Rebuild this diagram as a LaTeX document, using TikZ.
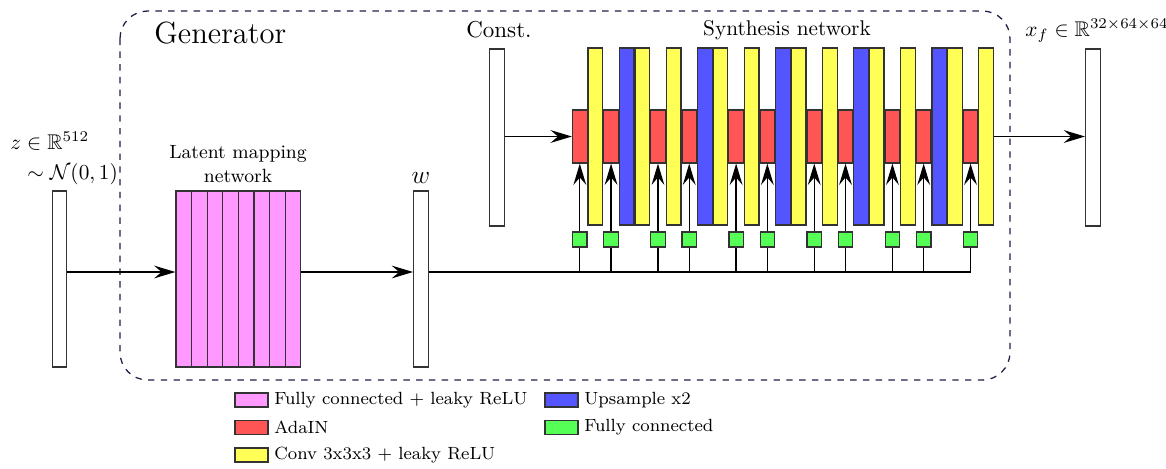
\documentclass[tikz,border=0pt]{standalone}
\usepackage{amssymb,amsmath}
\usepackage{tikz}
\usetikzlibrary{arrows.meta}
\usetikzlibrary{positioning}
\definecolor{linecolor}{HTML}{333333}
\definecolor{framecolor}{HTML}{1E1E48}
\definecolor{mapcolor}{HTML}{FF99FF}
\definecolor{adacolor}{HTML}{FF5555}
\definecolor{convcolor}{HTML}{FFFF55}
\definecolor{upcolor}{HTML}{5555FF}
\definecolor{fccolor}{HTML}{55FF55}

\begin{document}
\begin{tikzpicture}[x=0.47pt,y=-0.47pt,
  box/.style={draw=linecolor,line width=0.6pt,inner sep=0pt,minimum width=6.9pt},
  tallbox/.style={box,minimum height=83.2pt},
  vecbox/.style={tallbox,fill=white},
  mapbar/.style={box,fill=mapcolor,minimum width=7.3pt,minimum height=82.7pt},
  adabox/.style={box,fill=adacolor,minimum height=24.9pt},
  convbar/.style={tallbox,fill=convcolor},
  upbar/.style={tallbox,fill=upcolor},
  fcbox/.style={box,fill=fccolor,minimum width=6.8pt,minimum height=7pt},
  swatch/.style={box,minimum width=15.5pt,minimum height=6.6pt},
  legtext/.style={anchor=west,font=\fontsize{8.3}{10}\selectfont,inner sep=2.5pt},
  arr/.style={line width=0.6pt,-{Stealth[length=10pt,width=6pt,inset=3.5pt]}},
  wire/.style={line width=0.6pt}]
\useasboundingbox (0,0) rectangle (1166,468);

% generator frame
\draw[framecolor,line width=0.6pt,dashed,rounded corners=13pt] (120,11) rectangle (1010,380);
\node[anchor=base west,font=\Large,inner sep=0pt] (gentitle) at (154,43) {Generator};

% input and mapping network
\node[vecbox,minimum height=82.7pt] (zin) at (59.5,279) {};
\node[anchor=south west,align=left,inner sep=0pt] (zlbl) at (10,185)
  {$z\in\mathbb{R}^{512}$\\[2pt]\hspace*{8pt}$\sim\mathcal{N}(0,1)$};
\coordinate (bus) at (0,272);

\foreach \i in {1,...,8}
  \node[mapbar] (map\i) at ({168.2+15.6*\i},279) {};
\node[anchor=south,align=center,font=\small,inner sep=1pt] (maplbl) at (238,185) {Latent mapping\\network};

\node[vecbox,minimum height=82.7pt] (wvec) at (421,279) {};
\node[anchor=base,font=\large,inner sep=0pt] (wlbl) at (421,183) {$w$};

\draw[arr] (zin.east |- bus) -- (map1.west |- bus);
\draw[arr] (map8.east |- bus) -- (wvec.west |- bus);

% synthesis network
\node[vecbox] (const) at (496.8,137.5) {};
\node[anchor=base,inner sep=0pt,font=\fontsize{10.8}{13}\selectfont] (constlbl) at (499,37) {Const.};
\node[anchor=base,inner sep=0pt] (synlbl) at (787,35) {Synthesis network};

\foreach \s [count=\k] in {0,2,5,7,10,12,15,17,20,22,25}
{
  \node[adabox] (ada\k) at ({579.8+15.63*\s},136.5) {};
  \node[fcbox] (fc\k) at ({579.8+15.63*\s},239.5) {};
}
\foreach \s in {1,4,6,9,11,14,16,19,21,24,26}
  \node[convbar] (conv\s) at ({579.8+15.63*\s},136.5) {};
\foreach \s in {3,8,13,18,23}
  \node[upbar] (up\s) at ({579.8+15.63*\s},136.5) {};

\node[vecbox] (xout) at (1093,137.5) {};
\node[anchor=base west,inner sep=0pt] (xlbl) at (1025,36) {$x_f\in\mathbb{R}^{32\times64\times64}$};

\draw[arr] (const.east |- ada1) -- (ada1.west);
\draw[arr] (conv26.east) -- (xout.west |- conv26);

\draw[wire] (wvec.east |- bus) -- (fc11 |- bus);
\foreach \k in {1,...,11}
{
  \draw[wire] (fc\k.south) -- (fc\k |- bus);
  \draw[arr] (fc\k) -- (ada\k);
}

% legend
\node[swatch,fill=mapcolor] (lgmap) at (251.5,400) {};
\node[legtext] (lgmaptxt) at (lgmap.east) {Fully connected + leaky ReLU};
\node[swatch,fill=adacolor] (lgada) at (251.5,427.5) {};
\node[legtext] (lgadatxt) at (lgada.east) {AdaIN};
\node[swatch,fill=convcolor] (lgconv) at (251.5,455) {};
\node[legtext] (lgconvtxt) at (lgconv.east) {Conv 3x3x3 + leaky ReLU};
\node[swatch,fill=upcolor] (lgup) at (561.5,400) {};
\node[legtext] (lguptxt) at (lgup.east) {Upsample x2};
\node[swatch,fill=fccolor] (lgfc) at (561.5,427.5) {};
\node[legtext] (lgfctxt) at (lgfc.east) {Fully connected};
\end{tikzpicture}
\end{document}
